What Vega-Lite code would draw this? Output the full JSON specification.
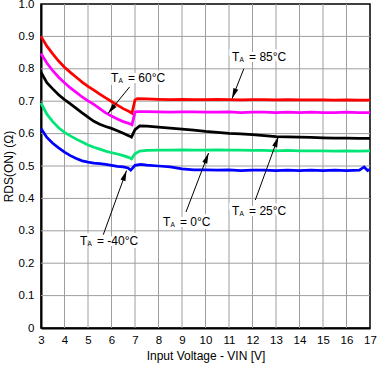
{
  "$schema": "https://vega.github.io/schema/vega-lite/v6.json",
  "width": 329,
  "height": 324,
  "autosize": {"type": "none"},
  "padding": {"left": 41, "top": 4, "right": 7, "bottom": 37},
  "config": {
    "font": "Liberation Sans",
    "view": {"stroke": "black", "strokeWidth": 1.5, "fill": null}
  },
  "datasets": {
    "gridlines": [
      {"x": 4, "y": 0, "x2": 4, "y2": 1}, {"x": 5, "y": 0, "x2": 5, "y2": 1}, {"x": 6, "y": 0, "x2": 6, "y2": 1}, {"x": 7, "y": 0, "x2": 7, "y2": 1}, {"x": 8, "y": 0, "x2": 8, "y2": 1}, {"x": 9, "y": 0, "x2": 9, "y2": 1}, {"x": 10, "y": 0, "x2": 10, "y2": 1}, {"x": 11, "y": 0, "x2": 11, "y2": 1}, {"x": 12, "y": 0, "x2": 12, "y2": 1}, {"x": 13, "y": 0, "x2": 13, "y2": 1}, {"x": 14, "y": 0, "x2": 14, "y2": 1}, {"x": 15, "y": 0, "x2": 15, "y2": 1}, {"x": 16, "y": 0, "x2": 16, "y2": 1},
      {"x": 3, "y": 0.1, "x2": 17, "y2": 0.1}, {"x": 3, "y": 0.2, "x2": 17, "y2": 0.2}, {"x": 3, "y": 0.3, "x2": 17, "y2": 0.3}, {"x": 3, "y": 0.4, "x2": 17, "y2": 0.4}, {"x": 3, "y": 0.5, "x2": 17, "y2": 0.5}, {"x": 3, "y": 0.6, "x2": 17, "y2": 0.6}, {"x": 3, "y": 0.7, "x2": 17, "y2": 0.7}, {"x": 3, "y": 0.8, "x2": 17, "y2": 0.8}, {"x": 3, "y": 0.9, "x2": 17, "y2": 0.9}
    ],
    "curves": [
      {"x": 3, "y": 0.9, "t": "85"}, {"x": 3.25, "y": 0.87, "t": "85"}, {"x": 3.5, "y": 0.846, "t": "85"}, {"x": 3.75, "y": 0.824, "t": "85"}, {"x": 4, "y": 0.805, "t": "85"}, {"x": 4.25, "y": 0.789, "t": "85"}, {"x": 4.5, "y": 0.774, "t": "85"}, {"x": 4.75, "y": 0.759, "t": "85"}, {"x": 5, "y": 0.746, "t": "85"}, {"x": 5.25, "y": 0.734, "t": "85"}, {"x": 5.5, "y": 0.722, "t": "85"}, {"x": 5.75, "y": 0.71, "t": "85"}, {"x": 6, "y": 0.699, "t": "85"}, {"x": 6.25, "y": 0.688, "t": "85"}, {"x": 6.5, "y": 0.677, "t": "85"}, {"x": 6.75, "y": 0.668, "t": "85"}, {"x": 6.87, "y": 0.663, "t": "85"}, {"x": 7.0, "y": 0.704, "t": "85"}, {"x": 7.1, "y": 0.708, "t": "85"}, {"x": 7.5, "y": 0.707, "t": "85"}, {"x": 8, "y": 0.706, "t": "85"}, {"x": 8.5, "y": 0.705, "t": "85"}, {"x": 9, "y": 0.706, "t": "85"}, {"x": 9.5, "y": 0.705, "t": "85"}, {"x": 10, "y": 0.705, "t": "85"}, {"x": 10.5, "y": 0.706, "t": "85"}, {"x": 11, "y": 0.705, "t": "85"}, {"x": 11.5, "y": 0.704, "t": "85"}, {"x": 12, "y": 0.705, "t": "85"}, {"x": 12.5, "y": 0.705, "t": "85"}, {"x": 13, "y": 0.704, "t": "85"}, {"x": 13.5, "y": 0.705, "t": "85"}, {"x": 14, "y": 0.704, "t": "85"}, {"x": 14.5, "y": 0.704, "t": "85"}, {"x": 15, "y": 0.704, "t": "85"}, {"x": 15.5, "y": 0.703, "t": "85"}, {"x": 16, "y": 0.704, "t": "85"}, {"x": 16.5, "y": 0.703, "t": "85"}, {"x": 17, "y": 0.703, "t": "85"},
      {"x": 3, "y": 0.847, "t": "60"}, {"x": 3.25, "y": 0.818, "t": "60"}, {"x": 3.5, "y": 0.794, "t": "60"}, {"x": 3.75, "y": 0.774, "t": "60"}, {"x": 4, "y": 0.757, "t": "60"}, {"x": 4.25, "y": 0.741, "t": "60"}, {"x": 4.5, "y": 0.727, "t": "60"}, {"x": 4.75, "y": 0.713, "t": "60"}, {"x": 5, "y": 0.701, "t": "60"}, {"x": 5.25, "y": 0.69, "t": "60"}, {"x": 5.5, "y": 0.677, "t": "60"}, {"x": 5.75, "y": 0.664, "t": "60"}, {"x": 6, "y": 0.654, "t": "60"}, {"x": 6.25, "y": 0.645, "t": "60"}, {"x": 6.5, "y": 0.637, "t": "60"}, {"x": 6.75, "y": 0.631, "t": "60"}, {"x": 6.87, "y": 0.627, "t": "60"}, {"x": 7.0, "y": 0.666, "t": "60"}, {"x": 7.1, "y": 0.668, "t": "60"}, {"x": 7.5, "y": 0.668, "t": "60"}, {"x": 8, "y": 0.667, "t": "60"}, {"x": 8.5, "y": 0.666, "t": "60"}, {"x": 9, "y": 0.667, "t": "60"}, {"x": 9.5, "y": 0.667, "t": "60"}, {"x": 10, "y": 0.666, "t": "60"}, {"x": 10.5, "y": 0.666, "t": "60"}, {"x": 11, "y": 0.667, "t": "60"}, {"x": 11.5, "y": 0.665, "t": "60"}, {"x": 12, "y": 0.666, "t": "60"}, {"x": 12.5, "y": 0.666, "t": "60"}, {"x": 13, "y": 0.665, "t": "60"}, {"x": 13.5, "y": 0.666, "t": "60"}, {"x": 14, "y": 0.665, "t": "60"}, {"x": 14.5, "y": 0.666, "t": "60"}, {"x": 15, "y": 0.665, "t": "60"}, {"x": 15.5, "y": 0.665, "t": "60"}, {"x": 16, "y": 0.666, "t": "60"}, {"x": 16.5, "y": 0.665, "t": "60"}, {"x": 17, "y": 0.665, "t": "60"},
      {"x": 3, "y": 0.79, "t": "25"}, {"x": 3.25, "y": 0.757, "t": "25"}, {"x": 3.5, "y": 0.738, "t": "25"}, {"x": 3.75, "y": 0.72, "t": "25"}, {"x": 4, "y": 0.705, "t": "25"}, {"x": 4.25, "y": 0.692, "t": "25"}, {"x": 4.5, "y": 0.678, "t": "25"}, {"x": 4.75, "y": 0.664, "t": "25"}, {"x": 5, "y": 0.651, "t": "25"}, {"x": 5.25, "y": 0.638, "t": "25"}, {"x": 5.5, "y": 0.629, "t": "25"}, {"x": 5.75, "y": 0.622, "t": "25"}, {"x": 6, "y": 0.616, "t": "25"}, {"x": 6.25, "y": 0.609, "t": "25"}, {"x": 6.5, "y": 0.601, "t": "25"}, {"x": 6.75, "y": 0.593, "t": "25"}, {"x": 6.85, "y": 0.589, "t": "25"}, {"x": 7.0, "y": 0.612, "t": "25"}, {"x": 7.2, "y": 0.624, "t": "25"}, {"x": 7.5, "y": 0.623, "t": "25"}, {"x": 8, "y": 0.62, "t": "25"}, {"x": 8.5, "y": 0.617, "t": "25"}, {"x": 9, "y": 0.614, "t": "25"}, {"x": 9.5, "y": 0.611, "t": "25"}, {"x": 10, "y": 0.607, "t": "25"}, {"x": 10.5, "y": 0.604, "t": "25"}, {"x": 11, "y": 0.601, "t": "25"}, {"x": 11.5, "y": 0.599, "t": "25"}, {"x": 12, "y": 0.597, "t": "25"}, {"x": 12.5, "y": 0.594, "t": "25"}, {"x": 13, "y": 0.591, "t": "25"}, {"x": 13.5, "y": 0.59, "t": "25"}, {"x": 14, "y": 0.589, "t": "25"}, {"x": 14.5, "y": 0.588, "t": "25"}, {"x": 15, "y": 0.587, "t": "25"}, {"x": 15.5, "y": 0.586, "t": "25"}, {"x": 16, "y": 0.586, "t": "25"}, {"x": 16.5, "y": 0.585, "t": "25"}, {"x": 17, "y": 0.585, "t": "25"},
      {"x": 3, "y": 0.695, "t": "0"}, {"x": 3.25, "y": 0.66, "t": "0"}, {"x": 3.5, "y": 0.637, "t": "0"}, {"x": 3.75, "y": 0.618, "t": "0"}, {"x": 4, "y": 0.604, "t": "0"}, {"x": 4.25, "y": 0.593, "t": "0"}, {"x": 4.5, "y": 0.583, "t": "0"}, {"x": 4.75, "y": 0.574, "t": "0"}, {"x": 5, "y": 0.565, "t": "0"}, {"x": 5.25, "y": 0.558, "t": "0"}, {"x": 5.5, "y": 0.552, "t": "0"}, {"x": 5.75, "y": 0.546, "t": "0"}, {"x": 6, "y": 0.541, "t": "0"}, {"x": 6.25, "y": 0.537, "t": "0"}, {"x": 6.5, "y": 0.532, "t": "0"}, {"x": 6.75, "y": 0.526, "t": "0"}, {"x": 6.85, "y": 0.522, "t": "0"}, {"x": 7.0, "y": 0.538, "t": "0"}, {"x": 7.2, "y": 0.546, "t": "0"}, {"x": 7.5, "y": 0.548, "t": "0"}, {"x": 8, "y": 0.549, "t": "0"}, {"x": 8.5, "y": 0.549, "t": "0"}, {"x": 9, "y": 0.55, "t": "0"}, {"x": 9.5, "y": 0.549, "t": "0"}, {"x": 10, "y": 0.549, "t": "0"}, {"x": 10.5, "y": 0.55, "t": "0"}, {"x": 11, "y": 0.549, "t": "0"}, {"x": 11.5, "y": 0.549, "t": "0"}, {"x": 12, "y": 0.548, "t": "0"}, {"x": 12.5, "y": 0.548, "t": "0"}, {"x": 13, "y": 0.547, "t": "0"}, {"x": 13.5, "y": 0.548, "t": "0"}, {"x": 14, "y": 0.547, "t": "0"}, {"x": 14.5, "y": 0.547, "t": "0"}, {"x": 15, "y": 0.547, "t": "0"}, {"x": 15.5, "y": 0.546, "t": "0"}, {"x": 16, "y": 0.547, "t": "0"}, {"x": 16.5, "y": 0.546, "t": "0"}, {"x": 17, "y": 0.547, "t": "0"},
      {"x": 3, "y": 0.616, "t": "-40"}, {"x": 3.25, "y": 0.588, "t": "-40"}, {"x": 3.5, "y": 0.57, "t": "-40"}, {"x": 3.75, "y": 0.556, "t": "-40"}, {"x": 4, "y": 0.543, "t": "-40"}, {"x": 4.25, "y": 0.532, "t": "-40"}, {"x": 4.5, "y": 0.523, "t": "-40"}, {"x": 4.75, "y": 0.516, "t": "-40"}, {"x": 5, "y": 0.512, "t": "-40"}, {"x": 5.25, "y": 0.509, "t": "-40"}, {"x": 5.5, "y": 0.507, "t": "-40"}, {"x": 5.75, "y": 0.505, "t": "-40"}, {"x": 6, "y": 0.502, "t": "-40"}, {"x": 6.25, "y": 0.499, "t": "-40"}, {"x": 6.5, "y": 0.497, "t": "-40"}, {"x": 6.7, "y": 0.494, "t": "-40"}, {"x": 6.82, "y": 0.487, "t": "-40"}, {"x": 7.0, "y": 0.502, "t": "-40"}, {"x": 7.25, "y": 0.505, "t": "-40"}, {"x": 7.5, "y": 0.503, "t": "-40"}, {"x": 8, "y": 0.5, "t": "-40"}, {"x": 8.5, "y": 0.497, "t": "-40"}, {"x": 9, "y": 0.491, "t": "-40"}, {"x": 9.5, "y": 0.488, "t": "-40"}, {"x": 10, "y": 0.488, "t": "-40"}, {"x": 10.5, "y": 0.487, "t": "-40"}, {"x": 11, "y": 0.488, "t": "-40"}, {"x": 11.5, "y": 0.486, "t": "-40"}, {"x": 12, "y": 0.487, "t": "-40"}, {"x": 12.5, "y": 0.487, "t": "-40"}, {"x": 13, "y": 0.486, "t": "-40"}, {"x": 13.5, "y": 0.487, "t": "-40"}, {"x": 14, "y": 0.486, "t": "-40"}, {"x": 14.5, "y": 0.487, "t": "-40"}, {"x": 15, "y": 0.486, "t": "-40"}, {"x": 15.5, "y": 0.487, "t": "-40"}, {"x": 16, "y": 0.486, "t": "-40"}, {"x": 16.55, "y": 0.487, "t": "-40"}, {"x": 16.75, "y": 0.497, "t": "-40"}, {"x": 16.9, "y": 0.486, "t": "-40"}, {"x": 17, "y": 0.489, "t": "-40"}
    ],
    "arrows": [
      {"x": 11.13, "y": 0.708, "x2": 11.63, "y2": 0.8, "angle": 201},
      {"x": 5.85, "y": 0.662, "x2": 6.77, "y2": 0.744, "angle": 219},
      {"x": 13.1, "y": 0.59, "x2": 12.12, "y2": 0.395, "angle": 20.5},
      {"x": 10.13, "y": 0.54, "x2": 9.17, "y2": 0.358, "angle": 21},
      {"x": 6.64, "y": 0.486, "x2": 5.65, "y2": 0.288, "angle": 20}
    ],
    "labels": [
      {"x": 11.13, "y": 0.835, "rest": "= 85°C"},
      {"x": 5.98, "y": 0.771, "rest": "= 60°C"},
      {"x": 11.13, "y": 0.362, "rest": "= 25°C"},
      {"x": 8.19, "y": 0.328, "rest": "= 0°C"},
      {"x": 4.66, "y": 0.268, "rest": "= -40°C"}
    ]
  },
  "encoding": {
    "x": {"field": "x", "type": "quantitative", "scale": {"domain": [3, 17], "nice": false},
      "axis": {"values": [3, 4, 5, 6, 7, 8, 9, 10, 11, 12, 13, 14, 15, 16, 17], "grid": false, "tickSize": 0, "tickColor": "transparent", "domainColor": "black", "domainWidth": 2, "labelFontSize": 11.5, "labelColor": "black", "labelPadding": 6, "labelFlush": false, "labelOverlap": false, "titleFontSize": 12, "titleFontWeight": "normal", "titleColor": "black", "titlePadding": 5},
      "title": "Input Voltage - VIN [V]"},
    "y": {"field": "y", "type": "quantitative", "scale": {"domain": [0, 1], "nice": false},
      "axis": {"values": [0, 0.1, 0.2, 0.3, 0.4, 0.5, 0.6, 0.7, 0.8, 0.9, 1], "labelExpr": "datum.value == 0 ? '0' : format(datum.value, '.1f')", "grid": false, "tickSize": 0, "tickColor": "transparent", "domainColor": "black", "domainWidth": 2, "labelFontSize": 11.5, "labelColor": "black", "labelPadding": 7, "labelFlush": false, "labelOverlap": false, "titleFontSize": 12, "titleFontWeight": "normal", "titleColor": "black", "titlePadding": 3},
      "title": "RDS(ON) (Ω)"}
  },
  "layer": [
    {
      "data": {"name": "gridlines"},
      "mark": {"type": "rule", "color": "#9e9e9e", "strokeWidth": 1, "opacity": 1},
      "encoding": {"x2": {"field": "x2"}, "y2": {"field": "y2"}}
    },
    {
      "data": {"name": "curves"},
      "mark": {"type": "line", "strokeWidth": 2.75},
      "encoding": {
        "color": {"field": "t", "type": "nominal", "scale": {"domain": ["85", "60", "25", "0", "-40"], "range": ["#ff0000", "#ff00ff", "#000000", "#00e676", "#0000ff"]}, "legend": null},
        "detail": {"field": "t"}
      }
    },
    {
      "data": {"name": "arrows"},
      "mark": {"type": "rule", "color": "black", "strokeWidth": 1},
      "encoding": {"x2": {"field": "x2"}, "y2": {"field": "y2"}}
    },
    {
      "data": {"name": "arrows"},
      "mark": {"type": "point", "shape": "M0,0L-0.5,2L0.5,2Z", "filled": true, "color": "black", "size": 110, "opacity": 1},
      "encoding": {"angle": {"field": "angle", "type": "quantitative", "scale": null}}
    },
    {
      "data": {"name": "labels"},
      "mark": {"type": "text", "text": "T", "align": "left", "baseline": "middle", "fontSize": 12, "stroke": "white", "strokeWidth": 6, "fill": "white"}
    },
    {
      "data": {"name": "labels"},
      "mark": {"type": "text", "align": "left", "baseline": "middle", "fontSize": 12, "dx": 17, "stroke": "white", "strokeWidth": 6, "fill": "white"},
      "encoding": {"text": {"field": "rest"}}
    },
    {
      "data": {"name": "labels"},
      "mark": {"type": "text", "text": "T", "align": "left", "baseline": "middle", "fontSize": 12, "color": "black"}
    },
    {
      "data": {"name": "labels"},
      "mark": {"type": "text", "text": "A", "align": "left", "baseline": "middle", "fontSize": 6.5, "dx": 7.5, "dy": 3, "color": "black"}
    },
    {
      "data": {"name": "labels"},
      "mark": {"type": "text", "align": "left", "baseline": "middle", "fontSize": 12, "dx": 17, "color": "black"},
      "encoding": {"text": {"field": "rest"}}
    }
  ]
}
